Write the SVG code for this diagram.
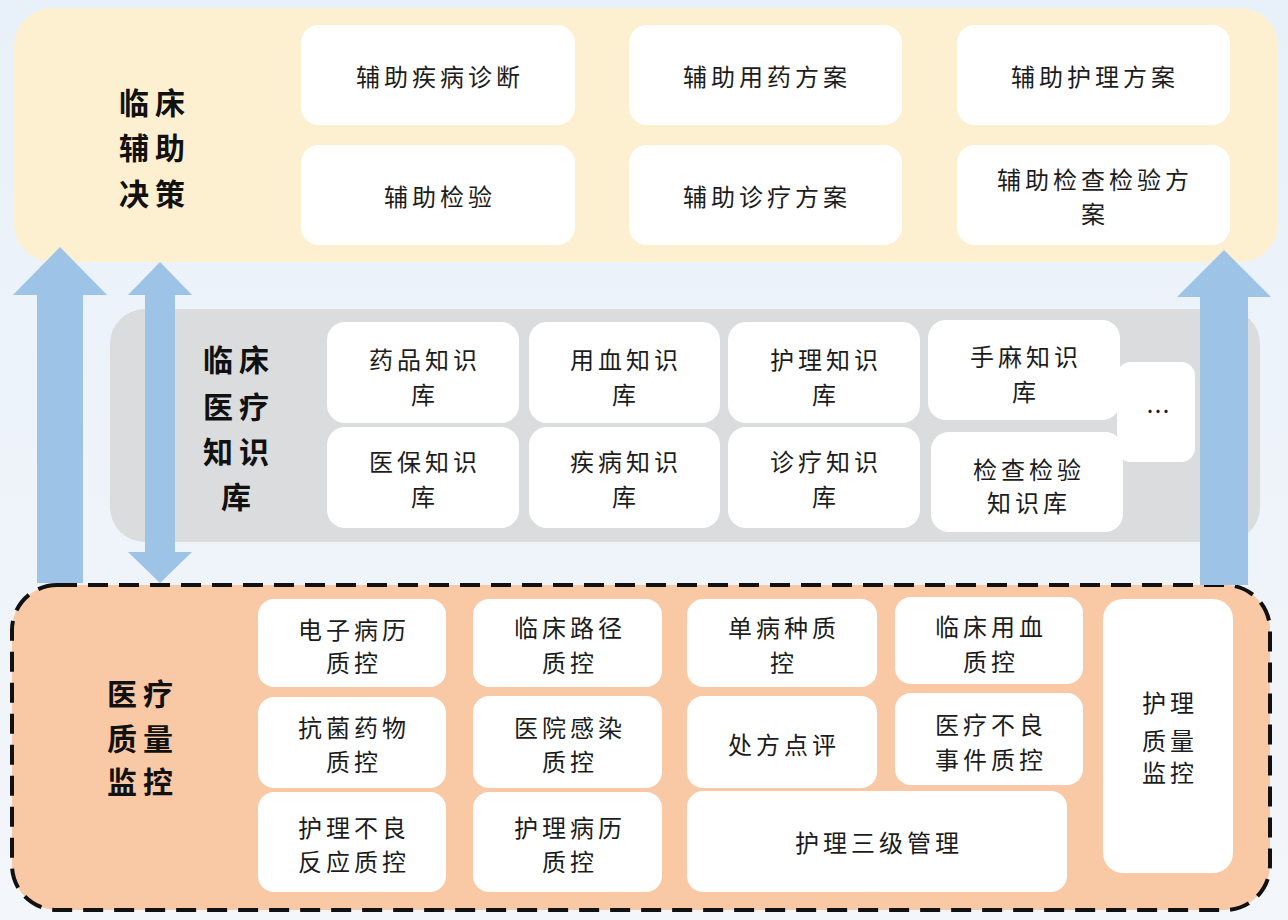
<svg xmlns="http://www.w3.org/2000/svg" width="1288" height="920" viewBox="0 0 1288 920">
<defs>
<linearGradient id="bg" x1="0" y1="0" x2="0" y2="1">
<stop offset="0" stop-color="#e8f1f9"/>
<stop offset="1" stop-color="#f3f6fa"/>
</linearGradient>
<style>
.box{fill:#ffffff;}
.t{font-family:"Noto Sans CJK SC","Noto Sans",sans-serif;font-size:24px;fill:#1c1c1c;text-anchor:middle;letter-spacing:4px;}
.h{font-family:"Noto Sans CJK SC","Noto Sans",sans-serif;font-size:30px;font-weight:bold;fill:#111;text-anchor:middle;letter-spacing:6px;}
.arrow{fill:#9dc3e6;}
</style>
</defs>
<rect x="0" y="0" width="1288" height="920" fill="url(#bg)"/>

<!-- Top panel -->
<g id="panel-decision">
<rect x="14" y="8" width="1264" height="254" rx="38" fill="#fdf0d1"/>
<text class="h" x="155" y="114">临床</text>
<text class="h" x="155" y="159">辅助</text>
<text class="h" x="155" y="205">决策</text>
</g>
<g id="n-jbzd"><rect class="box" x="301" y="25" width="274" height="100" rx="18"/><text class="t" x="440" y="86">辅助疾病诊断</text></g>
<g id="n-yyfa"><rect class="box" x="629" y="25" width="273" height="100" rx="18"/><text class="t" x="767" y="86">辅助用药方案</text></g>
<g id="n-hlfa"><rect class="box" x="957" y="25" width="273" height="100" rx="18"/><text class="t" x="1095" y="86">辅助护理方案</text></g>
<g id="n-jy"><rect class="box" x="301" y="145" width="274" height="100" rx="18"/><text class="t" x="440" y="206">辅助检验</text></g>
<g id="n-zlfa"><rect class="box" x="629" y="145" width="273" height="100" rx="18"/><text class="t" x="767" y="206">辅助诊疗方案</text></g>
<g id="n-jcjyfa"><rect class="box" x="957" y="145" width="273" height="100" rx="18"/><text class="t" x="1095" y="189">辅助检查检验方</text><text class="t" x="1095" y="223">案</text></g>

<!-- Middle panel -->
<g id="panel-knowledge">
<rect x="110" y="309" width="1150" height="233" rx="35" fill="#dbdcde"/>
<text class="h" x="239" y="371">临床</text>
<text class="h" x="239" y="418">医疗</text>
<text class="h" x="239" y="463">知识</text>
<text class="h" x="239" y="508">库</text>
</g>
<g id="k-yp"><rect class="box" x="327" y="322" width="192" height="101" rx="18"/><text class="t" x="425" y="369">药品知识</text><text class="t" x="425" y="404">库</text></g>
<g id="k-yx"><rect class="box" x="529" y="322" width="191" height="101" rx="18"/><text class="t" x="626" y="369">用血知识</text><text class="t" x="626" y="404">库</text></g>
<g id="k-hl"><rect class="box" x="728" y="322" width="192" height="101" rx="18"/><text class="t" x="826" y="369">护理知识</text><text class="t" x="826" y="404">库</text></g>
<g id="k-sm"><rect class="box" x="928" y="320" width="192" height="100" rx="18"/><text class="t" x="1026" y="366">手麻知识</text><text class="t" x="1026" y="401">库</text></g>
<g id="k-yb"><rect class="box" x="327" y="427" width="192" height="101" rx="18"/><text class="t" x="425" y="471">医保知识</text><text class="t" x="425" y="506">库</text></g>
<g id="k-jb"><rect class="box" x="529" y="427" width="191" height="101" rx="18"/><text class="t" x="626" y="471">疾病知识</text><text class="t" x="626" y="506">库</text></g>
<g id="k-zl"><rect class="box" x="728" y="427" width="192" height="101" rx="18"/><text class="t" x="826" y="471">诊疗知识</text><text class="t" x="826" y="506">库</text></g>
<g id="k-jcjy"><rect class="box" x="931" y="432" width="192" height="100" rx="18"/><text class="t" x="1029" y="479">检查检验</text><text class="t" x="1029" y="512">知识库</text></g>
<g id="k-more"><rect class="box" x="1117" y="362" width="78" height="100" rx="14"/><text class="t" x="1158" y="420" style="letter-spacing:0">…</text></g>

<!-- Bottom panel -->
<g id="panel-quality">
<rect x="12" y="585" width="1258" height="325" rx="45" fill="#f9c9a6" stroke="#111" stroke-width="4" stroke-dasharray="20 11"/>
<text class="h" x="143" y="705">医疗</text>
<text class="h" x="143" y="750">质量</text>
<text class="h" x="143" y="793">监控</text>
</g>
<g id="q-dzbl"><rect class="box" x="258" y="599" width="188" height="88" rx="16"/><text class="t" x="354" y="639">电子病历</text><text class="t" x="354" y="672">质控</text></g>
<g id="q-lclj"><rect class="box" x="473" y="599" width="189" height="88" rx="16"/><text class="t" x="570" y="637">临床路径</text><text class="t" x="570" y="672">质控</text></g>
<g id="q-dbz"><rect class="box" x="687" y="599" width="190" height="88" rx="16"/><text class="t" x="784" y="637">单病种质</text><text class="t" x="784" y="672">控</text></g>
<g id="q-lcyx"><rect class="box" x="895" y="597" width="188" height="87" rx="16"/><text class="t" x="991" y="636">临床用血</text><text class="t" x="991" y="671">质控</text></g>
<g id="q-kjyw"><rect class="box" x="258" y="697" width="188" height="91" rx="16"/><text class="t" x="354" y="737">抗菌药物</text><text class="t" x="354" y="771">质控</text></g>
<g id="q-yygr"><rect class="box" x="473" y="696" width="189" height="92" rx="16"/><text class="t" x="570" y="737">医院感染</text><text class="t" x="570" y="771">质控</text></g>
<g id="q-cfdp"><rect class="box" x="687" y="696" width="190" height="92" rx="16"/><text class="t" x="784" y="754">处方点评</text></g>
<g id="q-ylbl"><rect class="box" x="895" y="693" width="188" height="92" rx="16"/><text class="t" x="991" y="734">医疗不良</text><text class="t" x="991" y="769">事件质控</text></g>
<g id="q-hlbl"><rect class="box" x="258" y="792" width="188" height="100" rx="16"/><text class="t" x="354" y="837">护理不良</text><text class="t" x="354" y="871">反应质控</text></g>
<g id="q-hlbl2"><rect class="box" x="473" y="792" width="189" height="100" rx="16"/><text class="t" x="570" y="837">护理病历</text><text class="t" x="570" y="871">质控</text></g>
<g id="q-hlsj"><rect class="box" x="687" y="791" width="380" height="101" rx="16"/><text class="t" x="879" y="852">护理三级管理</text></g>
<g id="q-hlzl"><rect class="box" x="1103" y="599" width="130" height="274" rx="20"/><text class="t" x="1170" y="712">护理</text><text class="t" x="1170" y="750">质量</text><text class="t" x="1170" y="782">监控</text></g>

<!-- Connectors -->
<g id="connectors">
<polygon class="arrow" points="60,247 107,295 83,295 83,583 37,583 37,295 13,295"/>
<polygon class="arrow" points="160,262 192,295 175,295 175,552 192,552 160,583 128,552 145,552 145,295 128,295"/>
<polygon class="arrow" points="1224,250 1271,297 1248,297 1248,585 1200,585 1200,297 1177,297"/>
</g>
</svg>
